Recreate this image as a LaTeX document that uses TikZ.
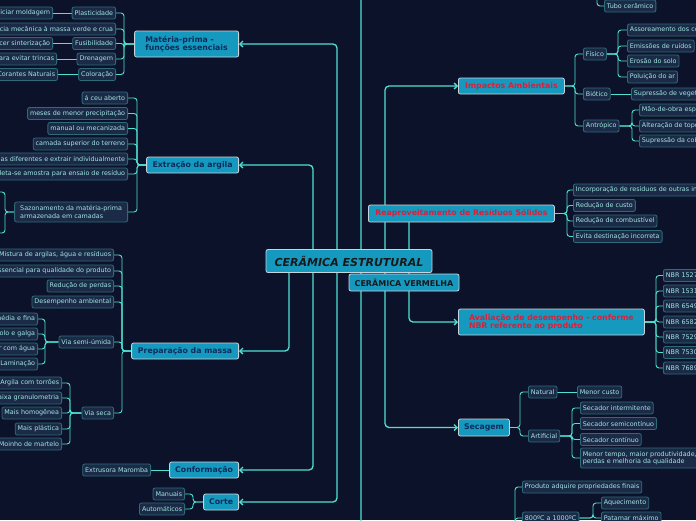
\documentclass[tikz,border=0pt]{standalone}
\usepackage{fontspec}
\setmainfont{DejaVu Sans}
\usepackage{tikz}
\usetikzlibrary{arrows.meta,calc}
\definecolor{night}{HTML}{0C1229}
\definecolor{cyanbox}{HTML}{1699BF}
\definecolor{boxline}{HTML}{C9D3DC}
\definecolor{inkblue}{HTML}{0D2C5C}
\definecolor{alert}{HTML}{D9203A}
\definecolor{leaf}{HTML}{1B2A47}
\definecolor{leafline}{HTML}{2E6B78}
\definecolor{leaftext}{HTML}{A3E6E2}
\definecolor{wire}{HTML}{4FE2D2}
\pgfdeclarelayer{bg}
\pgfdeclarelayer{wires}
\pgfsetlayers{bg,wires,main}
\tikzset{
  topic/.style   ={draw=boxline,fill=cyanbox,rounded corners=2pt,line width=0.8pt,
                   font=\fontsize{7.8}{8.4}\selectfont\bfseries,text=inkblue,
                   minimum height=16pt,inner sep=2pt,align=center},
  redtopic/.style={topic,text=alert},
  leafbox/.style ={draw=leafline,fill=leaf,rounded corners=2pt,line width=0.8pt,
                   font=\fontsize{6.4}{7.4}\selectfont,text=leaftext,
                   minimum height=12pt,inner xsep=2.5pt,inner ysep=1pt,align=left},
  trunk/.style   ={draw=wire,line width=1.3pt,rounded corners=4pt,
                   -{Straight Barb[length=3pt,width=6pt]}},
  twig/.style    ={draw=wire,line width=0.9pt,rounded corners=3pt},
}

\begin{document}
\begin{tikzpicture}[x=1pt,y=-1pt]
\useasboundingbox (0,0) rectangle (696,520);
\begin{pgfonlayer}{bg}
\fill[night] (0,0) rectangle (696,520);
\end{pgfonlayer}
% centre
\node[topic,font=\fontsize{11}{12}\selectfont\bfseries\itshape,text=black!90,
      minimum width=166pt,minimum height=23pt] (cer) at (349,261) {CERÂMICA ESTRUTURAL};
\node[topic,font=\fontsize{8}{9}\selectfont\bfseries,text=black!90,
      minimum width=110pt,minimum height=17pt] (verm) at (404,282.5) {CERÂMICA VERMELHA};
% left topics
\node[topic,anchor=east,minimum width=104pt,minimum height=26pt,align=left] (mat) at (239,44) {Matéria-prima -\\funções essenciais};
\node[topic,anchor=east,minimum width=92pt] (ext) at (239,165) {Extração da argila};
\node[topic,anchor=east,minimum width=107pt] (pre) at (239,351) {Preparação da massa};
\node[topic,anchor=east,minimum width=69pt] (con) at (239,470) {Conformação};
\node[topic,anchor=east,minimum width=35pt] (cor) at (239,502) {Corte};
% right topics
\node[redtopic,anchor=west,minimum width=106pt] (imp) at (458,86) {Impactos Ambientais};
\node[redtopic,anchor=west,minimum width=186pt,minimum height=17pt] (rea) at (368,213.5) {Reaproveitamento de Resíduos Sólidos};
\node[redtopic,anchor=west,minimum width=186pt,minimum height=26pt,align=left] (ava) at (458,322) {Avaliação de desempenho - conforme\\NBR referente ao produto};
\node[topic,anchor=west,minimum width=51pt,minimum height=17pt] (sec) at (458,427.5) {Secagem};
% off-picture topics
\coordinate (topo) at (458,-30);
\coordinate (queima) at (500,548);
\coordinate (tubosrc) at (597,-20);
\coordinate (sz1) at (-3,192);
\coordinate (sz2) at (-3,233);

% materia-prima
\node[leafbox,anchor=east] (pla) at (116,13) {Plasticidade};
\node[leafbox,anchor=east] (res) at (116,29) {Resistência mecânica à massa verde e crua};
\node[leafbox,anchor=east] (fus) at (116,43.5) {Fusibilidade};
\node[leafbox,anchor=east] (dre) at (116,59) {Drenagem};
\node[leafbox,anchor=east] (col) at (116,74.5) {Coloração};
\node[leafbox,anchor=east] (mol) at (53,13) {Propiciar moldagem};
\node[leafbox,anchor=east] (sin) at (53,43.5) {Favorecer sinterização};
\node[leafbox,anchor=east] (tri) at (57,59) {Porosidade para evitar trincas};
\node[leafbox,anchor=east] (cnat) at (58,74.5) {Corantes Naturais};
% extracao
\node[leafbox,anchor=east] (e1) at (128,98) {á ceu aberto};
\node[leafbox,anchor=east] (e2) at (128,113.5) {meses de menor precipitação};
\node[leafbox,anchor=east] (e3) at (128,128.5) {manual ou mecanizada};
\node[leafbox,anchor=east] (e4) at (128,144) {camada superior do terreno};
\node[leafbox,anchor=east] (e5) at (128,159) {Identificar camadas diferentes e extrair individualmente};
\node[leafbox,anchor=east] (e6) at (128,174) {Coleta-se amostra para ensaio de resíduo};
\node[leafbox,anchor=east,minimum width=113pt,minimum height=20pt] (saz) at (128,212) {Sazonamento da matéria-prima\\armazenada em camadas};
% preparacao
\node[leafbox,anchor=east] (p1) at (114,255) {Mistura de argilas, água e resíduos};
\node[leafbox,anchor=east] (p2) at (114,271) {Essencial para qualidade do produto};
\node[leafbox,anchor=east] (p3) at (114,286) {Redução de perdas};
\node[leafbox,anchor=east] (p4) at (114,302) {Desempenho ambiental};
\node[leafbox,anchor=east] (semi) at (114,342) {Via semi-úmida};
\node[leafbox,anchor=east] (seca) at (114,413) {Via seca};
\node[leafbox,anchor=east] (s1) at (38,319) {Moagem média e fina};
\node[leafbox,anchor=east] (s2) at (38,334) {Moinho de rolo e galga};
\node[leafbox,anchor=east] (s3) at (38,349) {Umedecer com água};
\node[leafbox,anchor=east] (s4) at (38,364) {Laminação};
\node[leafbox,anchor=east] (v1) at (62,383) {Argila com torrões};
\node[leafbox,anchor=east] (v2) at (62,398) {Baixa granulometria};
\node[leafbox,anchor=east] (v3) at (62,413) {Mais homogênea};
\node[leafbox,anchor=east] (v4) at (62,429) {Mais plástica};
\node[leafbox,anchor=east] (v5) at (62,444) {Moinho de martelo};
% conformacao, corte
\node[leafbox,anchor=east] (mar) at (151,470) {Extrusora Maromba};
\node[leafbox,anchor=east] (man) at (185,494) {Manuais};
\node[leafbox,anchor=east] (aut) at (185,509) {Automáticos};

% impactos
\node[leafbox,anchor=west] (tubo) at (604,6) {Tubo cerâmico};
\node[leafbox,anchor=west] (fis) at (583,54) {Físico};
\node[leafbox,anchor=west] (bio) at (583,94) {Biótico};
\node[leafbox,anchor=west] (ant) at (583,126) {Antrópico};
\node[leafbox,anchor=west] (f1) at (627,30) {Assoreamento dos corpos hídricos};
\node[leafbox,anchor=west] (f2) at (627,46) {Emissões de ruídos};
\node[leafbox,anchor=west] (f3) at (627,61) {Erosão do solo};
\node[leafbox,anchor=west] (f4) at (627,77) {Poluição do ar};
\node[leafbox,anchor=west] (b1) at (631,94) {Supressão de vegetação};
\node[leafbox,anchor=west] (a1) at (639,110) {Mão-de-obra especializada};
\node[leafbox,anchor=west] (a2) at (639,126) {Alteração de topografia};
\node[leafbox,anchor=west] (a3) at (639,141) {Supressão da cobertura vegetal};
% reaproveitamento
\node[leafbox,anchor=west] (r1) at (573,190) {Incorporação de resíduos de outras indústrias};
\node[leafbox,anchor=west] (r2) at (573,205.5) {Redução de custo};
\node[leafbox,anchor=west] (r3) at (573,221) {Redução de combustível};
\node[leafbox,anchor=west] (r4) at (573,236.5) {Evita destinação incorreta};
% avaliacao
\node[leafbox,anchor=west] (n1) at (663,275.5) {NBR 15270};
\node[leafbox,anchor=west] (n2) at (663,291) {NBR 15310};
\node[leafbox,anchor=west] (n3) at (663,306) {NBR 6549};
\node[leafbox,anchor=west] (n4) at (663,322) {NBR 6582};
\node[leafbox,anchor=west] (n5) at (663,337) {NBR 7529};
\node[leafbox,anchor=west] (n6) at (663,352.5) {NBR 7530};
\node[leafbox,anchor=west] (n7) at (663,368) {NBR 7689};
% secagem
\node[leafbox,anchor=west] (nat) at (528,392) {Natural};
\node[leafbox,anchor=west] (art) at (528,436) {Artificial};
\node[leafbox,anchor=west] (cus) at (577,392) {Menor custo};
\node[leafbox,anchor=west] (d1) at (580,408) {Secador intermitente};
\node[leafbox,anchor=west] (d2) at (580,423.5) {Secador semicontínuo};
\node[leafbox,anchor=west] (d3) at (580,439.5) {Secador contínuo};
\node[leafbox,anchor=west,minimum height=20pt] (d4) at (580,458) {Menor tempo, maior produtividade, menores\\perdas e melhoria da qualidade};
% queima
\node[leafbox,anchor=west] (fin) at (522,487) {Produto adquire propriedades finais};
\node[leafbox,anchor=west] (tem) at (522,518) {800ºC a 1000ºC};
\node[leafbox,anchor=west] (aq) at (601,503) {Aquecimento};
\node[leafbox,anchor=west] (pat) at (601,518) {Patamar máximo};

\begin{pgfonlayer}{wires}
% trunks
\draw[trunk] ([xshift=-12pt]cer.center) |- (mat.east);
\draw[trunk] ([xshift=-12pt]cer.center) |- (cor.east);
\draw[trunk] ([xshift=-36pt]cer.center) |- (ext.east);
\draw[trunk] ([xshift=-36pt]cer.center) |- (con.east);
\draw[trunk] ([xshift=-60pt]cer.center) |- (pre.east);
\draw[trunk] ([xshift=12pt]cer.center) |- (topo);
\draw[trunk] ([xshift=12pt]cer.center) |- (queima);
\draw[trunk] ([xshift=36pt]cer.center) |- (imp.west);
\draw[trunk] ([xshift=36pt]cer.center) |- (sec.west);
\draw[trunk] ([xshift=60pt]cer.center) |- (rea.west);
\draw[trunk] ([xshift=60pt]cer.center) |- (ava.west);
% left twigs
\foreach \c in {pla,res,fus,dre,col}
  \draw[twig] (mat.west) -| ([xshift=8pt]\c.east) -- (\c.east);
\draw[twig] (pla.west) -- (mol.east);
\draw[twig] (fus.west) -- (sin.east);
\draw[twig] (dre.west) -- (tri.east);
\draw[twig] (col.west) -- (cnat.east);
\foreach \c in {e1,e2,e3,e4,e5,e6,saz}
  \draw[twig] (ext.west) -| ([xshift=9pt]\c.east) -- (\c.east);
\foreach \c in {sz1,sz2}
  \draw[twig] (saz.west) -| ([xshift=8pt]\c) -- (\c);
\foreach \c in {p1,p2,p3,p4,semi,seca}
  \draw[twig] (pre.west) -| ([xshift=8pt]\c.east) -- (\c.east);
\foreach \c in {s1,s2,s3,s4}
  \draw[twig] (semi.west) -| ([xshift=7pt]\c.east) -- (\c.east);
\foreach \c in {v1,v2,v3,v4,v5}
  \draw[twig] (seca.west) -| ([xshift=8pt]\c.east) -- (\c.east);
\draw[twig] (con.west) -- (mar.east);
\foreach \c in {man,aut}
  \draw[twig] (cor.west) -| ([xshift=8pt]\c.east) -- (\c.east);
% right twigs
\draw[twig] (tubosrc) |- (tubo.west);
\foreach \c in {fis,bio,ant}
  \draw[twig] (imp.east) -| ([xshift=-8pt]\c.west) -- (\c.west);
\foreach \c in {f1,f2,f3,f4}
  \draw[twig] (fis.east) -| ([xshift=-9pt]\c.west) -- (\c.west);
\draw[twig] (bio.east) -- (b1.west);
\foreach \c in {a1,a2,a3}
  \draw[twig] (ant.east) -| ([xshift=-7pt]\c.west) -- (\c.west);
\foreach \c in {r1,r2,r3,r4}
  \draw[twig] (rea.east) -| ([xshift=-6pt]\c.west) -- (\c.west);
\foreach \c in {n1,n2,n3,n4,n5,n6,n7}
  \draw[twig] (ava.east) -| ([xshift=-7pt]\c.west) -- (\c.west);
\foreach \c in {nat,art}
  \draw[twig] (sec.east) -| ([xshift=-8pt]\c.west) -- (\c.west);
\draw[twig] (nat.east) -- (cus.west);
\foreach \c in {d1,d2,d3,d4}
  \draw[twig] (art.east) -| ([xshift=-8pt]\c.west) -- (\c.west);
\foreach \c in {fin,tem}
  \draw[twig] (queima) -| ([xshift=-7pt]\c.west) -- (\c.west);
\foreach \c in {aq,pat}
  \draw[twig] (tem.east) -| ([xshift=-8pt]\c.west) -- (\c.west);
\end{pgfonlayer}
\end{tikzpicture}
\end{document}
